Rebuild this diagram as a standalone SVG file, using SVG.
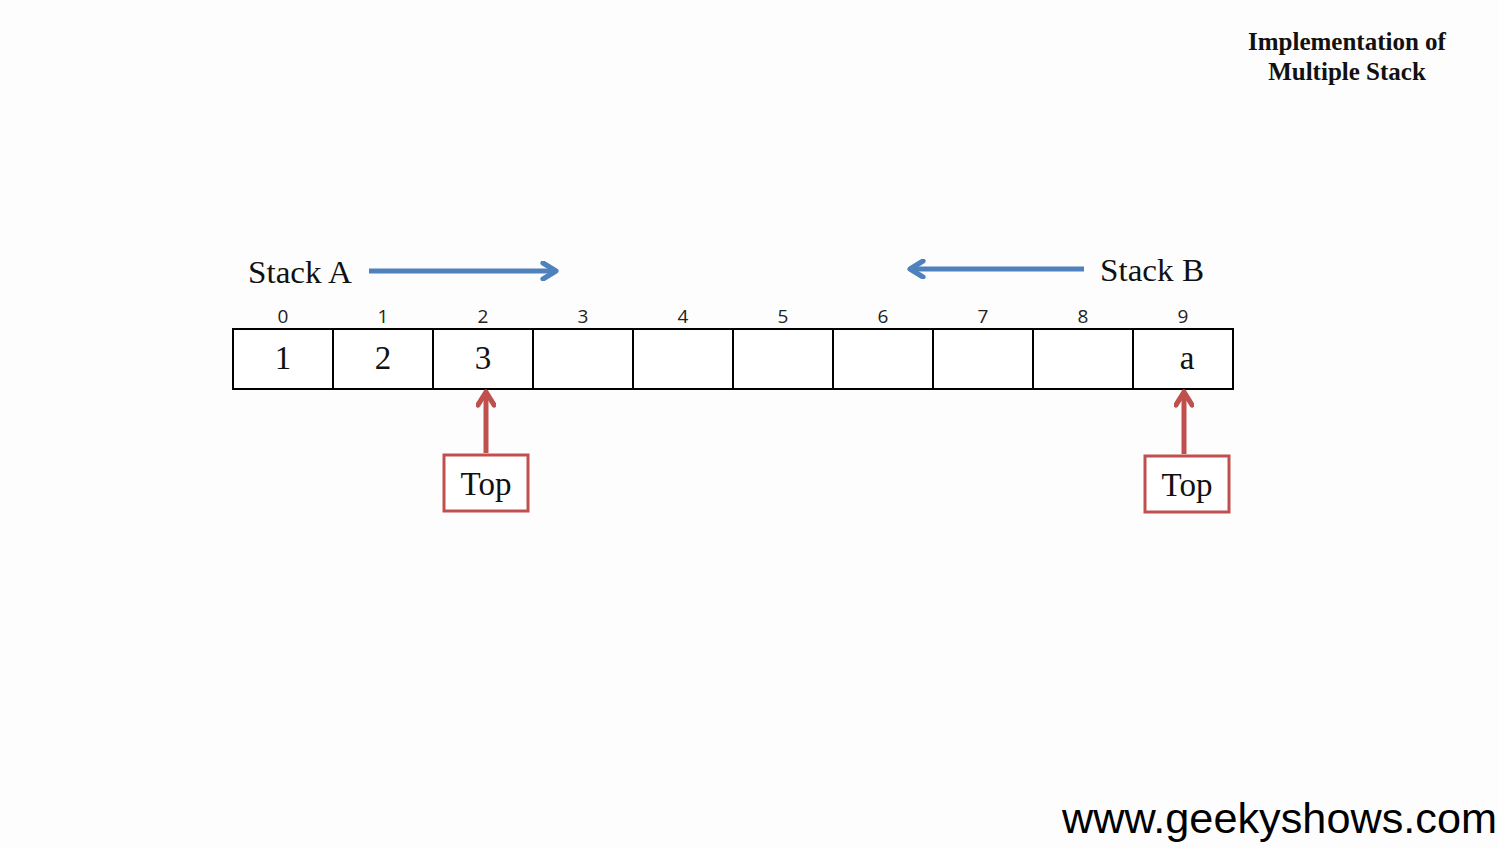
<svg xmlns="http://www.w3.org/2000/svg" width="1499" height="848" viewBox="0 0 1499 848">
<defs>
<style>
.cell{fill:#fff;stroke:#000;stroke-width:2}
.idx{font-family:"Open Sans","Noto Sans",sans-serif;font-size:19px;fill:#222;text-anchor:middle}
.val{font-family:"Liberation Serif",serif;font-size:33px;fill:#111;text-anchor:middle}
.lbl{font-family:"Liberation Serif",serif;font-size:32px;fill:#111}
.blue{stroke:#4f81bd;stroke-width:5;fill:none}
.red{stroke:#c0504d;stroke-width:5;fill:none}
.topbox{fill:#fff;stroke:#c0504d;stroke-width:3}
.title{font-family:"Liberation Serif",serif;font-size:25px;font-weight:bold;fill:#111;text-anchor:middle}
</style>
<marker id="ab" viewBox="0 0 10 10" refX="8.5" refY="5" markerWidth="4" markerHeight="4" orient="auto" markerUnits="strokeWidth">
<path d="M2,1 L8.5,5 L2,9" fill="none" stroke="#4f81bd" stroke-width="2.6" stroke-linecap="round" stroke-linejoin="round"/>
</marker>
<marker id="ar" viewBox="0 0 10 10" refX="8.5" refY="5" markerWidth="4" markerHeight="4" orient="auto" markerUnits="strokeWidth">
<path d="M2,1 L8.5,5 L2,9" fill="none" stroke="#c0504d" stroke-width="2.6" stroke-linecap="round" stroke-linejoin="round"/>
</marker>
</defs>
<rect width="1499" height="848" fill="#fdfdfd"/>
<g id="title">
<text class="title" x="1347" y="50">Implementation of</text>
<text class="title" x="1347" y="80">Multiple Stack</text>
</g>
<g id="stackA"><text class="lbl" x="248" y="283" textLength="104" lengthAdjust="spacingAndGlyphs">Stack A</text></g>
<g id="stackB"><text class="lbl" x="1100" y="281" textLength="104" lengthAdjust="spacingAndGlyphs">Stack B</text></g>
<g id="array">
<rect class="cell" x="233" y="329" width="100" height="60"/>
<rect class="cell" x="333" y="329" width="100" height="60"/>
<rect class="cell" x="433" y="329" width="100" height="60"/>
<rect class="cell" x="533" y="329" width="100" height="60"/>
<rect class="cell" x="633" y="329" width="100" height="60"/>
<rect class="cell" x="733" y="329" width="100" height="60"/>
<rect class="cell" x="833" y="329" width="100" height="60"/>
<rect class="cell" x="933" y="329" width="100" height="60"/>
<rect class="cell" x="1033" y="329" width="100" height="60"/>
<rect class="cell" x="1133" y="329" width="100" height="60"/>
<text class="idx" x="283" y="323">0</text>
<text class="idx" x="383" y="323">1</text>
<text class="idx" x="483" y="323">2</text>
<text class="idx" x="583" y="323">3</text>
<text class="idx" x="683" y="323">4</text>
<text class="idx" x="783" y="323">5</text>
<text class="idx" x="883" y="323">6</text>
<text class="idx" x="983" y="323">7</text>
<text class="idx" x="1083" y="323">8</text>
<text class="idx" x="1183" y="323">9</text>
<text class="val" x="283" y="369">1</text>
<text class="val" x="383" y="369">2</text>
<text class="val" x="483" y="369">3</text>
<text class="val" x="1187" y="369">a</text>
</g>
<g id="topA">
<rect class="topbox" x="444" y="455" width="84" height="56"/>
<text class="val" x="486" y="495">Top</text>
</g>
<g id="topB">
<rect class="topbox" x="1145" y="456" width="84" height="56"/>
<text class="val" x="1187" y="496">Top</text>
</g>
<g id="connectors">
<line class="blue" x1="369" y1="271" x2="556" y2="271" marker-end="url(#ab)"/>
<line class="blue" x1="1084" y1="269" x2="910" y2="269" marker-end="url(#ab)"/>
<line class="red" x1="486" y1="453" x2="486" y2="392" marker-end="url(#ar)"/>
<line class="red" x1="1184" y1="454" x2="1184" y2="392" marker-end="url(#ar)"/>
</g>
<g id="website">
<text x="1062" y="833" font-family="Liberation Sans,Arial,sans-serif" font-size="42" fill="#000" textLength="435" lengthAdjust="spacingAndGlyphs">www.geekyshows.com</text>
</g>
</svg>
